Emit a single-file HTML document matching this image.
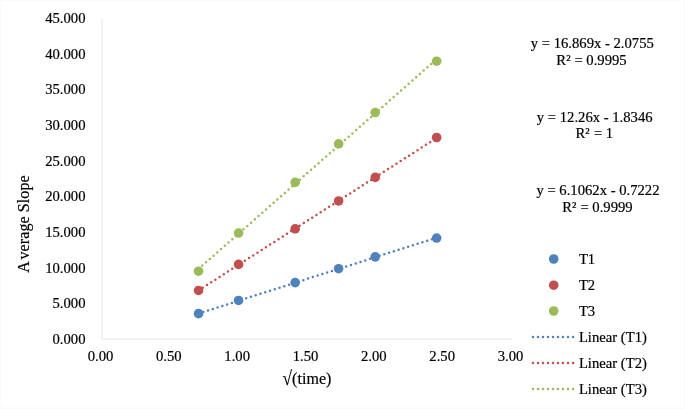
<!DOCTYPE html>
<html><head><meta charset="utf-8"><title>chart</title>
<style>html,body{margin:0;padding:0;background:#fff}svg{display:block}</style></head>
<body>
<svg width="685" height="409" viewBox="0 0 685 409" font-family="'Liberation Serif', serif" font-size="14.67" fill="#000" stroke="#000" stroke-width="0.2" style="font-kerning:none">
<rect stroke="none" x="0" y="0" width="685" height="409" fill="#fbfbfb"/>
<rect stroke="none" x="1.1" y="0.8" width="682.8" height="406.5" fill="#fff"/>
<path d="M102 18 V339 H512" fill="none" stroke="#ececec" stroke-width="1.3"/>
<text x="85.5" y="344.00" text-anchor="end">0.000</text>
<text x="85.5" y="308.34" text-anchor="end">5.000</text>
<text x="85.5" y="272.69" text-anchor="end">10.000</text>
<text x="85.5" y="237.03" text-anchor="end">15.000</text>
<text x="85.5" y="201.38" text-anchor="end">20.000</text>
<text x="85.5" y="165.72" text-anchor="end">25.000</text>
<text x="85.5" y="130.07" text-anchor="end">30.000</text>
<text x="85.5" y="94.41" text-anchor="end">35.000</text>
<text x="85.5" y="58.76" text-anchor="end">40.000</text>
<text x="85.5" y="23.10" text-anchor="end">45.000</text>
<text x="100.50" y="360.5" text-anchor="middle">0.00</text>
<text x="168.83" y="360.5" text-anchor="middle">0.50</text>
<text x="237.17" y="360.5" text-anchor="middle">1.00</text>
<text x="305.50" y="360.5" text-anchor="middle">1.50</text>
<text x="373.83" y="360.5" text-anchor="middle">2.00</text>
<text x="442.17" y="360.5" text-anchor="middle">2.50</text>
<text x="510.50" y="360.5" text-anchor="middle">3.00</text>
<text x="282.55" y="384.1" font-size="16" letter-spacing="0.06"><tspan font-size="20" dy="0.6" textLength="9.5" lengthAdjust="spacingAndGlyphs">√</tspan><tspan dy="-0.6">(time)</tspan></text>
<text transform="translate(29.0,272.8) rotate(-90)" font-size="16" letter-spacing="0.1" dx="0 1.6">Average Slope</text>
<line x1="198.54" y1="313.54" x2="436.66" y2="237.63" stroke="#4f81bd" stroke-width="2.5" stroke-linecap="round" stroke-dasharray="0 5"/>
<line x1="198.54" y1="290.43" x2="436.66" y2="138.00" stroke="#c0504d" stroke-width="2.5" stroke-linecap="round" stroke-dasharray="0 5"/>
<line x1="198.54" y1="268.90" x2="436.66" y2="59.17" stroke="#9bbb59" stroke-width="2.5" stroke-linecap="round" stroke-dasharray="0 5"/>
<circle stroke="none" cx="198.54" cy="313.63" r="4.8" fill="#4f81bd"/>
<circle stroke="none" cx="238.57" cy="300.44" r="4.8" fill="#4f81bd"/>
<circle stroke="none" cx="295.18" cy="282.61" r="4.8" fill="#4f81bd"/>
<circle stroke="none" cx="338.61" cy="268.70" r="4.8" fill="#4f81bd"/>
<circle stroke="none" cx="375.23" cy="256.86" r="4.8" fill="#4f81bd"/>
<circle stroke="none" cx="436.66" cy="238.04" r="4.8" fill="#4f81bd"/>
<circle stroke="none" cx="198.54" cy="290.45" r="4.8" fill="#c0504d"/>
<circle stroke="none" cx="238.57" cy="264.42" r="4.8" fill="#c0504d"/>
<circle stroke="none" cx="295.18" cy="228.77" r="4.8" fill="#c0504d"/>
<circle stroke="none" cx="338.61" cy="200.96" r="4.8" fill="#c0504d"/>
<circle stroke="none" cx="375.23" cy="177.42" r="4.8" fill="#c0504d"/>
<circle stroke="none" cx="436.66" cy="137.49" r="4.8" fill="#c0504d"/>
<circle stroke="none" cx="198.54" cy="271.20" r="4.8" fill="#9bbb59"/>
<circle stroke="none" cx="238.57" cy="233.05" r="4.8" fill="#9bbb59"/>
<circle stroke="none" cx="295.18" cy="182.42" r="4.8" fill="#9bbb59"/>
<circle stroke="none" cx="338.61" cy="143.91" r="4.8" fill="#9bbb59"/>
<circle stroke="none" cx="375.23" cy="112.53" r="4.8" fill="#9bbb59"/>
<circle stroke="none" cx="436.66" cy="61.19" r="4.8" fill="#9bbb59"/>
<text x="592.3" y="48.0" text-anchor="middle">y = 16.869x - 2.0755</text>
<text x="591.50" y="64.8" text-anchor="middle" dx="0 0 0.2">R² = 0.9995</text>
<text x="594.7" y="121.5" text-anchor="middle">y = 12.26x - 1.8346</text>
<text x="594.35" y="138.1" text-anchor="middle" dx="0 0 0.6">R² = 1</text>
<text x="598.0" y="194.8" text-anchor="middle">y = 6.1062x - 0.7222</text>
<text x="597.48" y="211.7" text-anchor="middle" dx="0 0 0.25">R² = 0.9999</text>
<circle stroke="none" cx="553.7" cy="259" r="4.8" fill="#4f81bd"/>
<text x="578.9" y="263.8">T1</text>
<circle stroke="none" cx="553.7" cy="285.2" r="4.8" fill="#c0504d"/>
<text x="578.9" y="290.0">T2</text>
<circle stroke="none" cx="553.7" cy="311" r="4.8" fill="#9bbb59"/>
<text x="578.9" y="315.8">T3</text>
<line x1="533" y1="337" x2="573.2" y2="337" stroke="#4f81bd" stroke-width="2.5" stroke-linecap="round" stroke-dasharray="0 5"/>
<text x="578.9" y="341.8">Linear (T1)</text>
<line x1="533" y1="363" x2="573.2" y2="363" stroke="#c0504d" stroke-width="2.5" stroke-linecap="round" stroke-dasharray="0 5"/>
<text x="578.9" y="367.8">Linear (T2)</text>
<line x1="533" y1="389" x2="573.2" y2="389" stroke="#9bbb59" stroke-width="2.5" stroke-linecap="round" stroke-dasharray="0 5"/>
<text x="578.9" y="393.8">Linear (T3)</text>
</svg>
</body></html>
